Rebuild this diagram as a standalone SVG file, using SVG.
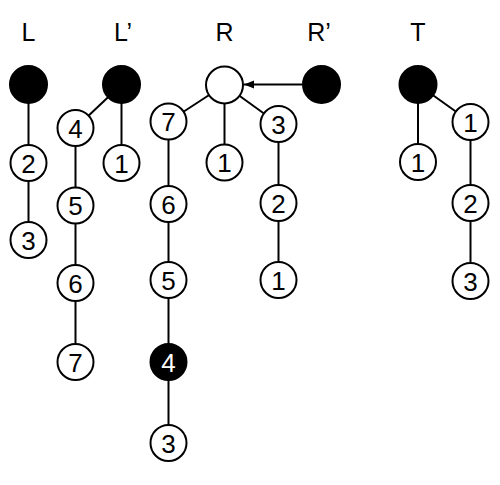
<svg xmlns="http://www.w3.org/2000/svg" width="500" height="485" viewBox="0 0 500 485">
<defs>
<marker id="arr" viewBox="0 0 10 10" refX="10" refY="5" markerWidth="10" markerHeight="10" markerUnits="userSpaceOnUse" orient="auto">
<path d="M0,1 L10,5 L0,9 Z" fill="#000"/>
</marker>
</defs>
<style>
.e{stroke:#000;stroke-width:2;fill:none}
.n{fill:#fff;stroke:#000;stroke-width:2}
.b{fill:#000;stroke:#000;stroke-width:2}
.t{font-family:"Liberation Sans",Arial,sans-serif;font-size:26px;text-anchor:middle;fill:#000}
.w{fill:#fff}
.lab{font-family:"Liberation Sans",Arial,sans-serif;font-size:25px;text-anchor:middle;fill:#000}
</style>
<rect width="500" height="485" fill="#fff"/>
<g id="labels">
<text class="lab" x="28.5" y="41">L</text>
<text class="lab" x="123" y="41">L’</text>
<text class="lab" x="224.5" y="41">R</text>
<text class="lab" x="319" y="41">R’</text>
<text class="lab" x="418" y="41">T</text>
</g>
<g id="connectors">
<line class="e" x1="28.5" y1="84.5" x2="28.5" y2="240"/>
<line class="e" x1="121.5" y1="84.5" x2="75.5" y2="128"/>
<line class="e" x1="75.5" y1="128" x2="75.5" y2="362"/>
<line class="e" x1="121.5" y1="84.5" x2="121.5" y2="163"/>
<line class="e" x1="224.5" y1="85" x2="168.5" y2="121.5"/>
<line class="e" x1="168.5" y1="121.5" x2="168.5" y2="443"/>
<line class="e" x1="224.5" y1="85" x2="224.5" y2="162.5"/>
<line class="e" x1="224.5" y1="85" x2="278.5" y2="124"/>
<line class="e" x1="278.5" y1="124" x2="278.5" y2="280"/>
<line class="e" x1="418" y1="84.5" x2="418" y2="162"/>
<line class="e" x1="418" y1="84.5" x2="470.5" y2="122"/>
<line class="e" x1="470.5" y1="122" x2="470.5" y2="281"/>
<line class="e" x1="302" y1="84.5" x2="244" y2="84.5" marker-end="url(#arr)"/>
</g>
<g id="L"><circle class="b" cx="28.5" cy="84.5" r="18.5"/></g>
<g id="L-2"><circle class="n" cx="28.5" cy="163" r="18"/><text class="t" x="28.5" y="172.5">2</text></g>
<g id="L-3"><circle class="n" cx="28.5" cy="240" r="18"/><text class="t" x="28.5" y="249.5">3</text></g>
<g id="Lp"><circle class="b" cx="121.5" cy="84.5" r="18.5"/></g>
<g id="Lp-4"><circle class="n" cx="75.5" cy="128" r="18"/><text class="t" x="75.5" y="137.5">4</text></g>
<g id="Lp-5"><circle class="n" cx="75.5" cy="205.5" r="18"/><text class="t" x="75.5" y="215">5</text></g>
<g id="Lp-6"><circle class="n" cx="75.5" cy="283" r="18"/><text class="t" x="75.5" y="292.5">6</text></g>
<g id="Lp-7"><circle class="n" cx="75.5" cy="362" r="18"/><text class="t" x="75.5" y="371.5">7</text></g>
<g id="Lp-1"><circle class="n" cx="121.5" cy="163" r="18"/><text class="t" x="121.5" y="172.5">1</text></g>
<g id="R"><circle class="n" cx="224.5" cy="85" r="18.5"/></g>
<g id="R-7"><circle class="n" cx="168.5" cy="121.5" r="18"/><text class="t" x="168.5" y="131">7</text></g>
<g id="R-6"><circle class="n" cx="168.5" cy="204" r="18"/><text class="t" x="168.5" y="213.5">6</text></g>
<g id="R-5"><circle class="n" cx="168.5" cy="280" r="18"/><text class="t" x="168.5" y="289.5">5</text></g>
<g id="R-4"><circle class="b" cx="168.5" cy="362" r="18"/><text class="t w" x="168.5" y="371.5">4</text></g>
<g id="R-3b"><circle class="n" cx="168.5" cy="443" r="18"/><text class="t" x="168.5" y="452.5">3</text></g>
<g id="R-1"><circle class="n" cx="224.5" cy="162.5" r="18"/><text class="t" x="224.5" y="172">1</text></g>
<g id="R-3"><circle class="n" cx="278.5" cy="124" r="18"/><text class="t" x="278.5" y="133.5">3</text></g>
<g id="R-2"><circle class="n" cx="278.5" cy="203" r="18"/><text class="t" x="278.5" y="212.5">2</text></g>
<g id="R-1b"><circle class="n" cx="278.5" cy="280" r="18"/><text class="t" x="278.5" y="289.5">1</text></g>
<g id="Rp"><circle class="b" cx="321.5" cy="84.5" r="18.5"/></g>
<g id="T"><circle class="b" cx="418" cy="84.5" r="18.5"/></g>
<g id="T-1a"><circle class="n" cx="418" cy="162" r="18"/><text class="t" x="418" y="171.5">1</text></g>
<g id="T-1b"><circle class="n" cx="470.5" cy="122" r="18"/><text class="t" x="470.5" y="131.5">1</text></g>
<g id="T-2"><circle class="n" cx="470.5" cy="203" r="18"/><text class="t" x="470.5" y="212.5">2</text></g>
<g id="T-3"><circle class="n" cx="470.5" cy="281" r="18"/><text class="t" x="470.5" y="290.5">3</text></g>
</svg>
